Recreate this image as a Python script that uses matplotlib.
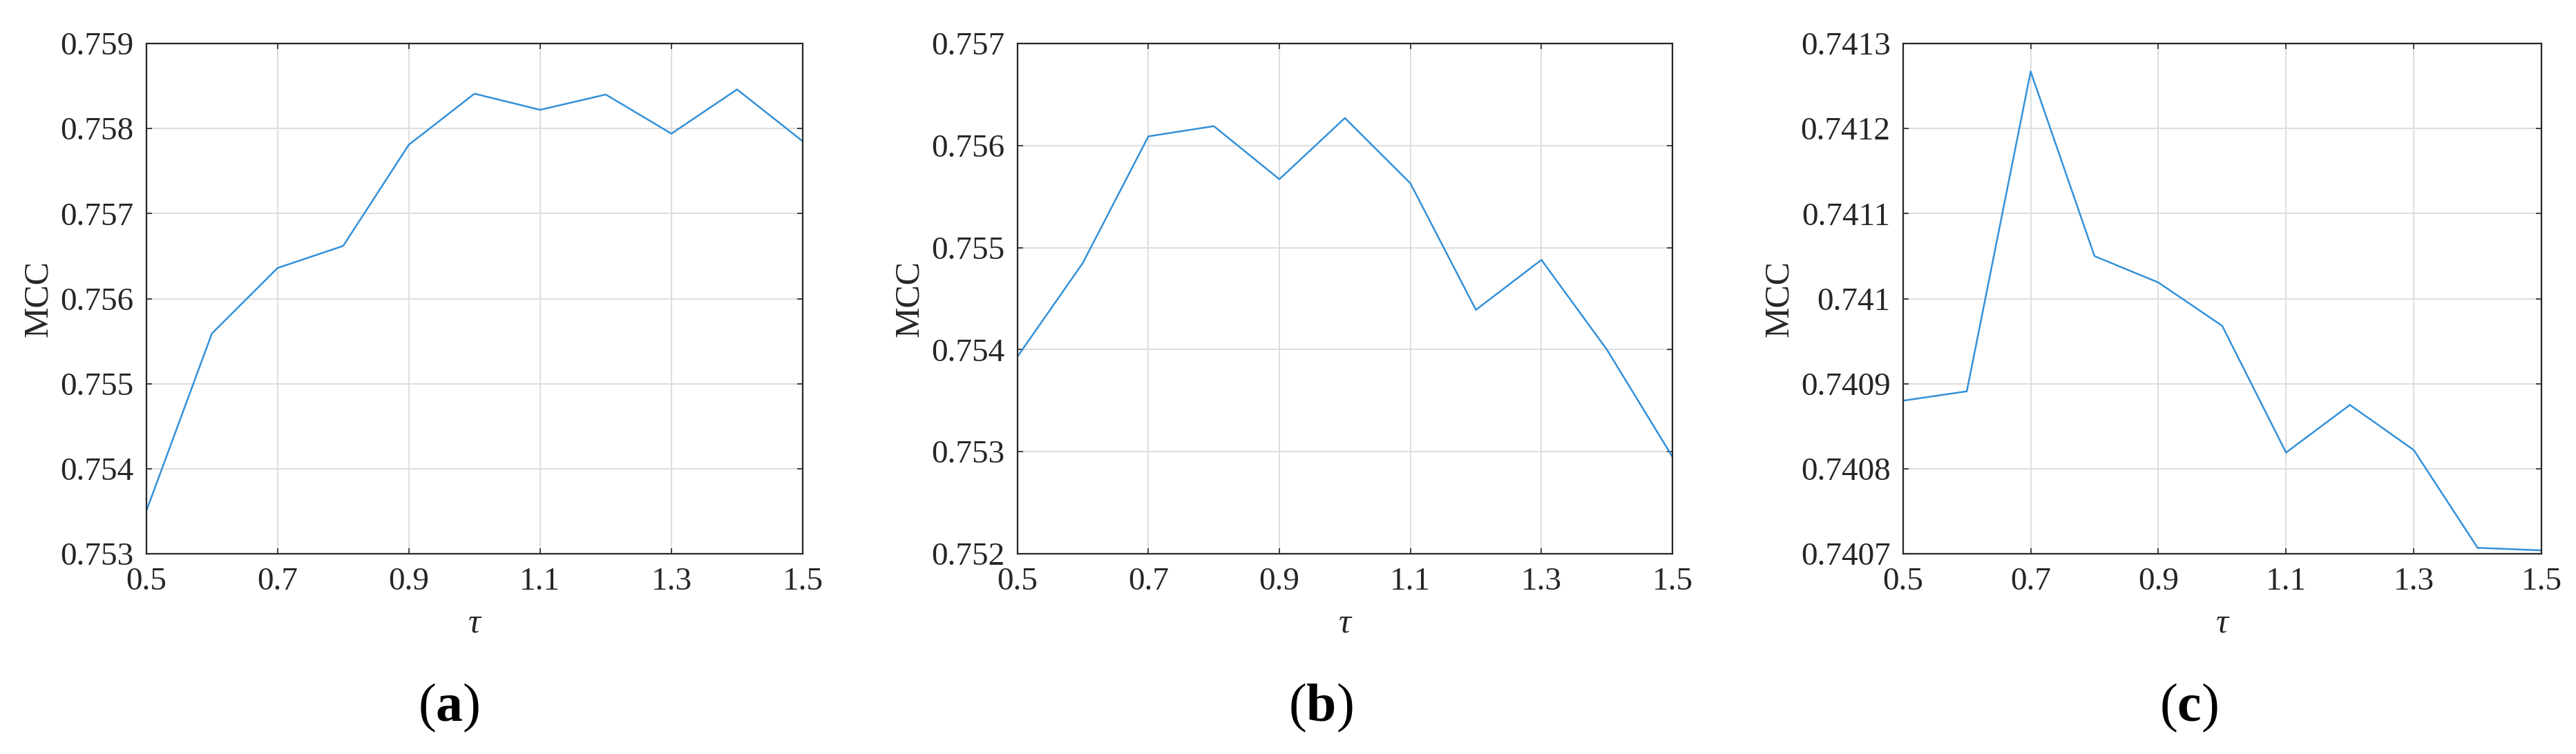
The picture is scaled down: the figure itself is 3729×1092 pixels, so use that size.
import matplotlib
matplotlib.use('Agg')
import matplotlib.pyplot as plt
from matplotlib.ticker import FuncFormatter

# tau values (shared x axis)
tau = [0.5, 0.6, 0.7, 0.8, 0.9, 1.0, 1.1, 1.2, 1.3, 1.4, 1.5]

# MCC
mcc_a = [0.75350, 0.75559, 0.75636, 0.75662, 0.75781, 0.75841,
         0.75822, 0.75840, 0.75794, 0.75846, 0.75785]
mcc_b = [0.75393, 0.75485, 0.75609, 0.75619, 0.75567, 0.75627,
         0.75563, 0.75439, 0.75488, 0.75400, 0.75295]
mcc_c = [0.740880, 0.740891, 0.741267, 0.741050, 0.741019, 0.740968,
         0.740819, 0.740875, 0.740822, 0.740707, 0.740704]

xticks = [0.5, 0.7, 0.9, 1.1, 1.3, 1.5]
yticks_a = [0.753, 0.754, 0.755, 0.756, 0.757, 0.758, 0.759]
yticks_b = [0.752, 0.753, 0.754, 0.755, 0.756, 0.757]
yticks_c = [0.7407, 0.7408, 0.7409, 0.7410, 0.7411, 0.7412, 0.7413]
captions = ['a', 'b', 'c']

plt.rcParams['font.family'] = ['Liberation Serif', 'DejaVu Serif']
plt.rcParams['mathtext.fontset'] = 'custom'
plt.rcParams['mathtext.rm'] = 'Liberation Serif'
plt.rcParams['mathtext.bf'] = 'Liberation Serif:bold'

W, H = 3729, 1092
fig = plt.figure(figsize=(W / 100, H / 100), dpi=100)

line_color = '#3390d8'
ink = '#262626'

# axes boxes in pixels: left, right
boxes = [(211.7, 1162), (1472.7, 2421), (2754.7, 3679)]
top_px, bot_px = 63, 802
ylab_x = [79, 1340, 2599]
cap_x = [650, 1912, 3168]

panels = [(mcc_a, yticks_a), (mcc_b, yticks_b), (mcc_c, yticks_c)]

for i, ((vals, yt), (l, r)) in enumerate(zip(panels, boxes)):
    ax = fig.add_axes([l / W, 1 - bot_px / H, (r - l) / W, (bot_px - top_px) / H])
    ax.plot(tau, vals, color=line_color, lw=1.8)
    ax.set_xlim(0.5, 1.5)
    ax.set_ylim(yt[0], yt[-1])
    ax.set_xticks(xticks)
    ax.set_yticks(yt)
    ax.xaxis.set_major_formatter(FuncFormatter(lambda v, p: '{:g}'.format(round(v, 6))))
    ax.yaxis.set_major_formatter(FuncFormatter(lambda v, p: '{:g}'.format(round(v, 6))))
    ax.grid(True, color='#dedede', lw=1.5)
    ax.set_axisbelow(True)
    for s in ax.spines.values():
        s.set_color(ink)
        s.set_linewidth(1.6)
    ax.tick_params(direction='in', length=6, width=1.2, colors=ink,
                   labelsize=34, top=True, right=True)
    ax.tick_params(axis='x', pad=14)
    ax.tick_params(axis='y', pad=13)
    ax.set_xlabel('τ', fontsize=36, fontstyle='italic', color=ink)
    ax.xaxis.set_label_coords(0.5, -0.105)
    ax.set_ylabel('MCC', fontsize=36, color=ink)
    ax.yaxis.set_label_coords((ylab_x[i] - l) / (r - l), 0.5)

    fig.text(cap_x[i] / W, 1 - 1025 / H, '($\\mathbf{' + captions[i] + '}$)',
             fontsize=56, ha='center', va='center', color='black')

fig.savefig('out.png', dpi=100, facecolor='white')
